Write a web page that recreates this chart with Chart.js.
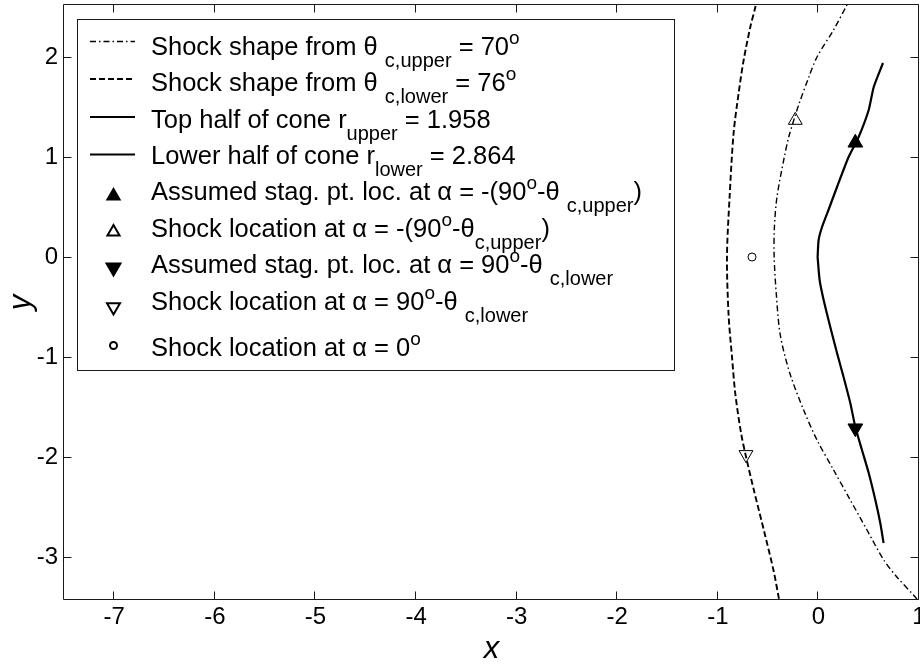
<!DOCTYPE html>
<html>
<head>
<meta charset="utf-8">
<title>Shock and cone shapes</title>
<script src="https://cdn.jsdelivr.net/npm/chart.js@4.4.0/dist/chart.umd.min.js"></script>
<style>
  html, body { margin: 0; padding: 0; background: #fff; }
  #wrap { width: 920px; height: 665px; }
</style>
</head>
<body>
<div id="wrap"><canvas id="shockChart" width="920" height="665"></canvas></div>
<script>
// shock shape from theta_c,upper = 70 deg (dash-dot)
const shockUpperY = [2.60, 2.52, 2.27, 2.00, 1.80, 1.54, 1.40, 1.20, 1.00, 0.60, 0.29, 0.00, -0.38, -0.78, -1.16, -1.53, -1.83, -2.13, -2.43, -2.73, -3.03, -3.20, -3.40, -3.48];
const shockUpperX = [0.33, 0.284, 0.15, -0.014, -0.095, -0.19, -0.235, -0.295, -0.339, -0.412, -0.438, -0.44, -0.418, -0.379, -0.285, -0.147, -0.014, 0.151, 0.317, 0.483, 0.65, 0.78, 0.963, 1.03];

// shock shape from theta_c,lower = 76 deg (dashed)
const shockLowerY = [2.60, 2.50, 2.30, 1.97, 1.64, 1.24, 0.60, 0.00, -0.58, -1.00, -1.37, -1.76, -2.01, -2.35, -2.75, -3.14, -3.43, -3.50];
const shockLowerX = [-0.61, -0.627, -0.677, -0.743, -0.793, -0.843, -0.883, -0.909, -0.893, -0.859, -0.826, -0.769, -0.717, -0.637, -0.538, -0.445, -0.39, -0.375];

// cone surface, top half (r_upper = 1.958) and lower half (r_lower = 2.864)
const coneTopY = [0.00, 0.17, 0.30, 0.47, 0.70, 1.00, 1.20, 1.47, 1.70, 1.94];
const coneTopX = [-0.008, 0.002, 0.036, 0.10, 0.185, 0.30, 0.40, 0.50, 0.55, 0.642];
const coneLowY = [0.00, -0.23, -0.43, -0.70, -0.96, -1.20, -1.46, -1.70, -1.93, -2.16, -2.43, -2.66, -2.86];
const coneLowX = [-0.008, 0.012, 0.052, 0.118, 0.185, 0.25, 0.317, 0.367, 0.433, 0.50, 0.566, 0.615, 0.648];

// single marked locations
const stagUpper = [0.367, 1.142];
const shockAtUpper = [-0.23, 1.367];
const stagLower = [0.367, -1.712];
const shockAtLower = [-0.72, -1.976];
const shockAtZero = [-0.66, 0.0];

// axis ranges
const xRange = [-7.5, 1];
const yRange = [-3.43, 2.52];

const FAMILY = "'Liberation Sans', Arial, sans-serif";
const DASH_DOT = [6, 3, 1.5, 3];
const DASHED = [6, 3];

function pts(xs, ys) {
  return xs.map((x, i) => ({ x: x, y: ys[i] }));
}

function curve(label, xs, ys, width, dash, tension) {
  return {
    label: label,
    data: pts(xs, ys),
    showLine: true,
    borderColor: '#000',
    borderWidth: width,
    borderDash: dash,
    pointRadius: 0,
    tension: tension
  };
}

function marker(label, p, style, radius, rotation, filled) {
  return {
    label: label,
    data: [{ x: p[0], y: p[1] }],
    pointStyle: style,
    pointRadius: radius,
    pointRotation: rotation,
    pointBorderWidth: 1,
    borderColor: '#000',
    backgroundColor: filled ? '#000' : 'rgba(0,0,0,0)'
  };
}

// legend rows: line sample or marker, then text pieces (normal / sub / sup)
const legendRows = [
  { base: 55, lineY: 41.5, dash: DASH_DOT, width: 1.4,
    parts: [['Shock shape from θ ', 'n'], ['c,upper', 'sub'], [' = 70', 'n'], ['o', 'sup']] },
  { base: 91, lineY: 79, dash: DASHED, width: 1.8,
    parts: [['Shock shape from θ ', 'n'], ['c,lower', 'sub'], [' = 76', 'n'], ['o', 'sup']] },
  { base: 128, lineY: 117, dash: [], width: 2,
    parts: [['Top half of cone r', 'n'], ['upper', 'sub'], [' = 1.958', 'n']] },
  { base: 164, lineY: 154.5, dash: [], width: 2,
    parts: [['Lower half of cone r', 'n'], ['lower', 'sub'], [' = 2.864', 'n']] },
  { base: 200, markY: 196, style: 'triangle', radius: 7, rotation: 0, filled: true,
    parts: [['Assumed stag. pt. loc. at α = -(90', 'n'], ['o', 'sup'], ['-θ ', 'n'], ['c,upper', 'sub'], [')', 'n']] },
  { base: 237, markY: 232, style: 'triangle', radius: 7, rotation: 0, filled: false,
    parts: [['Shock location at α = -(90', 'n'], ['o', 'sup'], ['-θ', 'n'], ['c,upper', 'sub'], [')', 'n']] },
  { base: 273, markY: 267.5, style: 'triangle', radius: 8, rotation: 180, filled: true,
    parts: [['Assumed stag. pt. loc. at α = 90', 'n'], ['o', 'sup'], ['-θ ', 'n'], ['c,lower', 'sub']] },
  { base: 310, markY: 307, style: 'triangle', radius: 7.5, rotation: 180, filled: false,
    parts: [['Shock location at α = 90', 'n'], ['o', 'sup'], ['-θ ', 'n'], ['c,lower', 'sub']] },
  { base: 356, markY: 345.5, style: 'circle', radius: 3.5, rotation: 0, filled: false,
    parts: [['Shock location at α = 0', 'n'], ['o', 'sup']] }
];

// box around the plot with inward tick marks on all four sides
const frameTicks = {
  id: 'frameTicks',
  afterDatasetsDraw(chart) {
    const { ctx, chartArea: a, scales } = chart;
    const L = a.left - 0.5, R = a.right - 0.5, T = a.top - 0.5, B = a.bottom - 0.5;
    const len = 8;
    ctx.save();
    ctx.strokeStyle = '#1a1a1a';
    ctx.lineWidth = 1;
    ctx.beginPath();
    ctx.rect(L, T, R - L, B - T);
    scales.x.ticks.forEach(t => {
      const px = Math.round(scales.x.getPixelForValue(t.value)) - 0.5;
      ctx.moveTo(px, B); ctx.lineTo(px, B - len);
      ctx.moveTo(px, T); ctx.lineTo(px, T + len);
    });
    scales.y.ticks.forEach(t => {
      const py = Math.round(scales.y.getPixelForValue(t.value)) + 0.5;
      ctx.moveTo(L, py); ctx.lineTo(L + len, py);
      ctx.moveTo(R, py); ctx.lineTo(R - len, py);
    });
    ctx.stroke();
    ctx.restore();
  }
};

const boxLegend = {
  id: 'boxLegend',
  afterDraw(chart) {
    const ctx = chart.ctx;
    ctx.save();
    ctx.fillStyle = '#fff';
    ctx.fillRect(77, 19, 598, 352);
    ctx.strokeStyle = '#1a1a1a';
    ctx.lineWidth = 1;
    ctx.strokeRect(77.5, 19.5, 597, 351);

    legendRows.forEach(row => {
      ctx.strokeStyle = '#000';
      ctx.fillStyle = '#000';
      if (row.lineY !== undefined) {
        ctx.lineWidth = row.width;
        ctx.setLineDash(row.dash);
        ctx.beginPath();
        ctx.moveTo(90, row.lineY);
        ctx.lineTo(135, row.lineY);
        ctx.stroke();
        ctx.setLineDash([]);
      } else {
        ctx.fillStyle = row.filled ? '#000' : 'rgba(0,0,0,0)';
        Chart.helpers.drawPoint(ctx, {
          pointStyle: row.style, radius: row.radius, rotation: row.rotation, borderWidth: 1
        }, 113.5, row.markY);
      }

      ctx.fillStyle = '#000';
      ctx.textBaseline = 'alphabetic';
      ctx.textAlign = 'left';
      let x = 151;
      row.parts.forEach(([txt, kind]) => {
        let size = 25.5, dy = 0;
        if (kind === 'sub') { size = 20; dy = 12; }
        if (kind === 'sup') { size = 19; dy = -11; }
        ctx.font = size + 'px ' + FAMILY;
        ctx.fillText(txt, x, row.base + dy);
        x += ctx.measureText(txt).width;
      });
    });
    ctx.restore();
  }
};

new Chart(document.getElementById('shockChart'), {
  type: 'scatter',
  data: {
    datasets: [
      curve('Shock shape from θc,upper = 70°', shockUpperX, shockUpperY, 1.4, DASH_DOT, 0.3),
      curve('Shock shape from θc,lower = 76°', shockLowerX, shockLowerY, 1.9, DASHED, 0.3),
      curve('Top half of cone', coneTopX, coneTopY, 2.2, [], 0.2),
      curve('Lower half of cone', coneLowX, coneLowY, 2.2, [], 0.2),
      marker('Assumed stag. pt. (upper)', stagUpper, 'triangle', 8.5, 0, true),
      marker('Shock location (upper)', shockAtUpper, 'triangle', 8, 0, false),
      marker('Assumed stag. pt. (lower)', stagLower, 'triangle', 8.5, 180, true),
      marker('Shock location (lower)', shockAtLower, 'triangle', 8, 180, false),
      marker('Shock location at α = 0°', shockAtZero, 'circle', 4, 0, false)
    ]
  },
  options: {
    responsive: false,
    animation: false,
    devicePixelRatio: 1,
    events: [],
    layout: { autoPadding: false, padding: { top: 5, right: 1, left: 0, bottom: 0 } },
    plugins: {
      legend: { display: false },
      tooltip: { enabled: false }
    },
    scales: {
      x: {
        type: 'linear',
        min: xRange[0],
        max: xRange[1],
        grid: { display: false, drawTicks: false },
        border: { display: false },
        ticks: {
          stepSize: 1, includeBounds: false, autoSkip: false, maxRotation: 0,
          padding: 3, color: '#000', font: { family: FAMILY, size: 24 }
        },
        title: {
          display: true, text: 'x', color: '#000',
          font: { family: FAMILY, size: 31, style: 'italic', lineHeight: 1 },
          padding: { top: 0, bottom: 0 }
        },
        afterFit(s) { s.height = 65; s.paddingLeft = 0; s.paddingRight = 0; }
      },
      y: {
        type: 'linear',
        min: yRange[0],
        max: yRange[1],
        grid: { display: false, drawTicks: false },
        border: { display: false },
        ticks: {
          stepSize: 1, includeBounds: false, autoSkip: false,
          padding: 6, color: '#000', font: { family: FAMILY, size: 24 }
        },
        title: {
          display: true, text: 'y', color: '#000',
          font: { family: FAMILY, size: 31, style: 'italic', lineHeight: 1 },
          padding: { top: 5.5, bottom: 0 }
        },
        afterFit(s) { s.width = 64; s.paddingTop = 0; s.paddingBottom = 0; }
      }
    }
  },
  plugins: [frameTicks, boxLegend]
});
</script>
</body>
</html>
